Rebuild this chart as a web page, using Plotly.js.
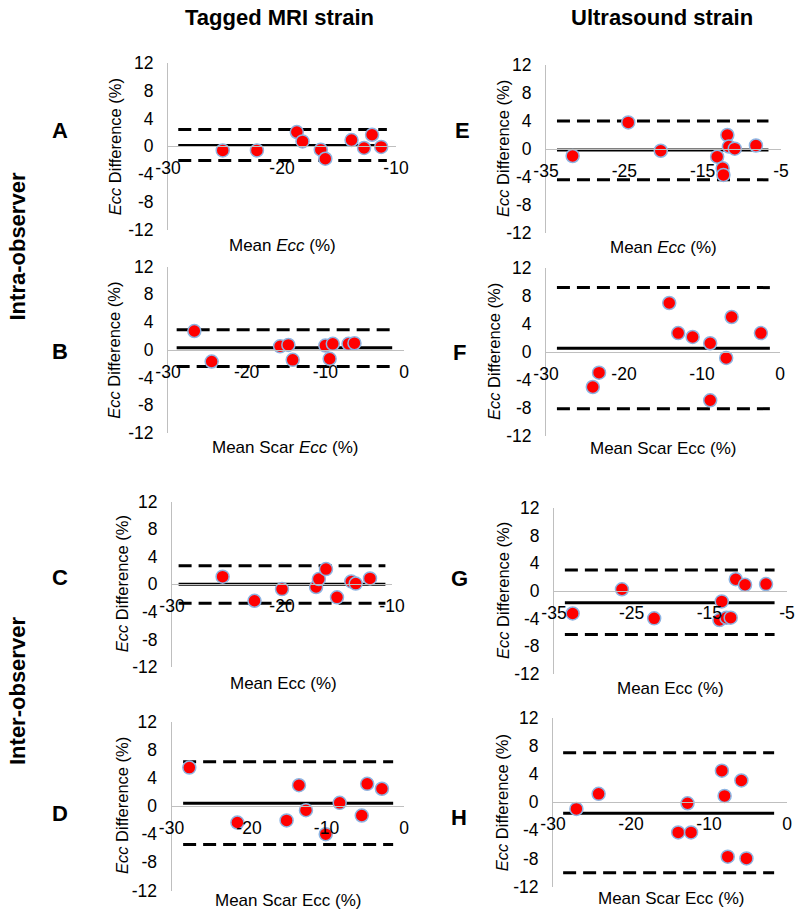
<!DOCTYPE html>
<html>
<head>
<meta charset="utf-8">
<script src="https://cdn.plot.ly/plotly-3.0.1.min.js"></script>
<style>html,body{margin:0;padding:0;background:#fff;}#chart{width:800px;height:919px;}</style>
</head>
<body>
<div id="chart"></div>
<script>
// ---------- DATA ----------
const yTicks = [-12, -8, -4, 0, 4, 8, 12];
const xTicks30to10 = [-30, -20, -10];
const xTicks35to5 = [-35, -25, -15, -5];
const xTicks30to0 = [-30, -20, -10, 0];

// A: Tagged MRI, intra-observer
const aMean = [-25.2, -22.2, -18.7, -18.2, -16.6, -16.2, -13.9, -12.8, -12.1, -11.3];
const aDiff = [-0.6, -0.6, 2.05, 0.7, -0.5, -1.8, 0.9, -0.25, 1.65, -0.1];
const aBias = 0.1, aLoA = [2.4, -2.05], aSpan = [-29.1, -10.8];

// E: Ultrasound, intra-observer
const eMean = [-31.6, -24.5, -20.35, -13.15, -12.45, -12.35, -11.85, -11.65, -10.9, -8.2];
const eDiff = [-1.0, 3.8, -0.25, -1.1, -2.75, -3.7, 2.0, 0.35, 0.05, 0.5];
const eBias = -0.15, eLoA = [4.0, -4.4], eSpan = [-33.6, -6.6];

// B: Tagged MRI, intra-observer, scar
const bMean = [-26.65, -24.45, -15.75, -14.7, -14.15, -10.0, -9.45, -9.05, -7.05, -6.3];
const bDiff = [2.7, -1.7, 0.5, 0.7, -1.45, 0.6, -1.3, 0.85, 0.85, 0.95];
const bBias = 0.3, bLoA = [2.9, -2.4], bSpan = [-28.9, -1.5];

// F: Ultrasound, intra-observer, scar
const fMean = [-24.0, -23.2, -14.2, -13.05, -11.2, -8.95, -8.95, -6.9, -6.2, -2.45];
const fDiff = [-5.0, -2.95, 7.0, 2.7, 2.15, 1.25, -6.9, -0.85, 5.0, 2.7];
const fBias = 0.55, fLoA = [9.2, -8.1], fSpan = [-28.6, -1.3];

// C: Tagged MRI, inter-observer
const cMean = [-25.4, -22.5, -20.0, -16.9, -16.65, -16.0, -15.0, -13.7, -13.3, -12.0];
const cDiff = [1.1, -2.4, -0.7, -0.4, 0.75, 2.2, -1.9, 0.4, 0.1, 0.85];
const cBias = 0.0, cLoA = [2.7, -2.75], cSpan = [-29.4, -10.6];

// G: Ultrasound, inter-observer
const gMean = [-32.6, -26.25, -22.1, -13.7, -13.4, -12.8, -12.25, -11.6, -10.4, -7.7];
const gDiff = [-3.25, 0.25, -3.95, -4.2, -1.5, -3.85, -3.85, 1.7, 0.9, 1.0];
const gBias = -1.7, gLoA = [3.05, -6.3], gSpan = [-33.6, -6.6];

// D: Tagged MRI, inter-observer, scar
const dMean = [-27.7, -21.5, -15.15, -13.55, -12.65, -10.1, -8.3, -5.45, -4.75, -2.85];
const dDiff = [5.45, -2.35, -2.05, 2.95, -0.6, -4.0, 0.45, -1.35, 3.15, 2.45];
const dBias = 0.4, dLoA = [6.3, -5.45], dSpan = [-28.5, -1.4];

// H: Ultrasound, inter-observer, scar
const hMean = [-27.0, -24.15, -13.95, -12.75, -12.3, -8.35, -8.0, -7.6, -5.85, -5.2];
const hDiff = [-0.95, 1.2, -4.3, -0.15, -4.3, 4.5, 0.9, -7.75, 3.1, -8.0];
const hBias = -1.55, hLoA = [7.05, -10.05], hSpan = [-28.7, -1.65];

// ---------- LAYOUT ----------
const W = 800, H = 919;
const FONT = "Liberation Sans, Arial, sans-serif";
const px = x => x / W;
const py = y => 1 - y / H;

const panels = [
  {id:'A', mean:aMean, diff:aDiff, bias:aBias, loa:aLoA, span:aSpan, xr:[-30,-10], xt:xTicks30to10,
   box:{x:[168,396], y:[63,229.5]}, letter:[60,130], ytx:115, xt_t:[282,245], xtitle:'Mean <i>Ecc</i> (%)'},
  {id:'E', mean:eMean, diff:eDiff, bias:eBias, loa:eLoA, span:eSpan, xr:[-35,-5], xt:xTicks35to5,
   box:{x:[546,781], y:[65,233]}, letter:[462,130], ytx:503, xt_t:[663,247], xtitle:'Mean <i>Ecc</i> (%)'},
  {id:'B', mean:bMean, diff:bDiff, bias:bBias, loa:bLoA, span:bSpan, xr:[-30,0], xt:xTicks30to0,
   box:{x:[168,404], y:[266.5,433]}, letter:[60,351], ytx:114, xt_t:[285,447], xtitle:'Mean Scar <i>Ecc</i> (%)'},
  {id:'F', mean:fMean, diff:fDiff, bias:fBias, loa:fLoA, span:fSpan, xr:[-30,0], xt:xTicks30to0,
   box:{x:[546,780], y:[268,436]}, letter:[459,352], ytx:494, xt_t:[663,448], xtitle:'Mean Scar Ecc (%)'},
  {id:'C', mean:cMean, diff:cDiff, bias:cBias, loa:cLoA, span:cSpan, xr:[-30,-10], xt:xTicks30to10,
   box:{x:[172,392], y:[501.5,667]}, letter:[60,577], ytx:122, xt_t:[283,683], xtitle:'Mean Ecc (%)'},
  {id:'G', mean:gMean, diff:gDiff, bias:gBias, loa:gLoA, span:gSpan, xr:[-35,-5], xt:xTicks35to5,
   box:{x:[554,787], y:[508,674]}, letter:[459,578], ytx:503, xt_t:[670,688], xtitle:'Mean Ecc (%)'},
  {id:'D', mean:dMean, diff:dDiff, bias:dBias, loa:dLoA, span:dSpan, xr:[-30,0], xt:xTicks30to0,
   box:{x:[171.5,404], y:[721.5,890.5]}, letter:[60,813], ytx:122, xt_t:[288,900], xtitle:'Mean Scar Ecc (%)'},
  {id:'H', mean:hMean, diff:hDiff, bias:hBias, loa:hLoA, span:hSpan, xr:[-30,0], xt:xTicks30to0,
   box:{x:[553,787], y:[718,886.5]}, letter:[459,817], ytx:502, xt_t:[671,898], xtitle:'Mean Scar Ecc (%)'}
];

const traces = [];
const layout = {
  width: W, height: H,
  margin: {l:0, r:0, t:0, b:0},
  paper_bgcolor: '#fff', plot_bgcolor: 'rgba(0,0,0,0)',
  showlegend: false,
  font: {family: FONT, size: 17, color: '#000'},
  annotations: []
};

panels.forEach((p, i) => {
  const n = i + 1;
  const xa = n === 1 ? 'x' : 'x' + n;
  const ya = n === 1 ? 'y' : 'y' + n;
  const xKey = n === 1 ? 'xaxis' : 'xaxis' + n;
  const yKey = n === 1 ? 'yaxis' : 'yaxis' + n;
  const yDom = [py(p.box.y[1]), py(p.box.y[0])];
  layout[xKey] = {
    domain: [px(p.box.x[0]), px(p.box.x[1])],
    range: p.xr, anchor: 'free', position: (yDom[0] + yDom[1]) / 2,
    tickmode: 'array', tickvals: p.xt, ticktext: p.xt.map(String),
    showgrid: false, zeroline: false, showline: true, linecolor: '#BFBFBF', linewidth: 1,
    ticks: '', ticklabelstandoff: 6, tickfont: {family: FONT, size: 17.5, color: '#000'},
    fixedrange: true
  };
  layout[yKey] = {
    domain: yDom, range: [-12, 12], anchor: xa,
    tickmode: 'array', tickvals: yTicks, ticktext: yTicks.map(String),
    showgrid: false, zeroline: false, showline: true, linecolor: '#BFBFBF', linewidth: 1,
    ticks: '', ticklabelstandoff: 10, tickfont: {family: FONT, size: 17.5, color: '#000'},
    fixedrange: true
  };
  // limits of agreement (dashed)
  p.loa.forEach(v => {
    traces.push({x: p.span, y: [v, v], xaxis: xa, yaxis: ya, mode: 'lines', hoverinfo: 'skip',
      line: {color: '#000', width: 3, dash: '13px,7px'}});
  });
  // bias (solid)
  traces.push({x: p.span, y: [p.bias, p.bias], xaxis: xa, yaxis: ya, mode: 'lines', hoverinfo: 'skip',
    line: {color: '#000', width: 3}});
  // points
  traces.push({x: p.mean, y: p.diff, xaxis: xa, yaxis: ya, mode: 'markers', cliponaxis: false,
    marker: {size: 13, color: '#FF0000', line: {color: '#8DB4E2', width: 1.5}}});

  const yMid = (p.box.y[0] + p.box.y[1]) / 2;
  layout.annotations.push(
    {text: '<b>' + p.id + '</b>', xref: 'paper', yref: 'paper', x: px(p.letter[0]), y: py(p.letter[1]),
     xanchor: 'center', yanchor: 'middle', showarrow: false, font: {family: FONT, size: 22, color: '#000'}},
    {text: '<i>Ecc</i> Difference (%)', xref: 'paper', yref: 'paper', x: px(p.ytx), y: py(yMid),
     xanchor: 'center', yanchor: 'middle', textangle: -90, showarrow: false, font: {family: FONT, size: 16.5, color: '#000'}},
    {text: p.xtitle, xref: 'paper', yref: 'paper', x: px(p.xt_t[0]), y: py(p.xt_t[1]),
     xanchor: 'center', yanchor: 'middle', showarrow: false, font: {family: FONT, size: 17, color: '#000'}}
  );
});

// column headers and row labels
layout.annotations.push(
  {text: '<b>Tagged MRI strain</b>', xref: 'paper', yref: 'paper', x: px(279), y: py(17),
   xanchor: 'center', yanchor: 'middle', showarrow: false, font: {family: FONT, size: 22, color: '#000'}},
  {text: '<b>Ultrasound strain</b>', xref: 'paper', yref: 'paper', x: px(662), y: py(17),
   xanchor: 'center', yanchor: 'middle', showarrow: false, font: {family: FONT, size: 22, color: '#000'}},
  {text: '<b>Intra-observer</b>', xref: 'paper', yref: 'paper', x: px(17), y: py(246.5), textangle: -90,
   xanchor: 'center', yanchor: 'middle', showarrow: false, font: {family: FONT, size: 22, color: '#000'}},
  {text: '<b>Inter-observer</b>', xref: 'paper', yref: 'paper', x: px(17), y: py(691), textangle: -90,
   xanchor: 'center', yanchor: 'middle', showarrow: false, font: {family: FONT, size: 22, color: '#000'}}
);

Plotly.newPlot('chart', traces, layout, {displayModeBar: false, staticPlot: true});
</script>
</body>
</html>
